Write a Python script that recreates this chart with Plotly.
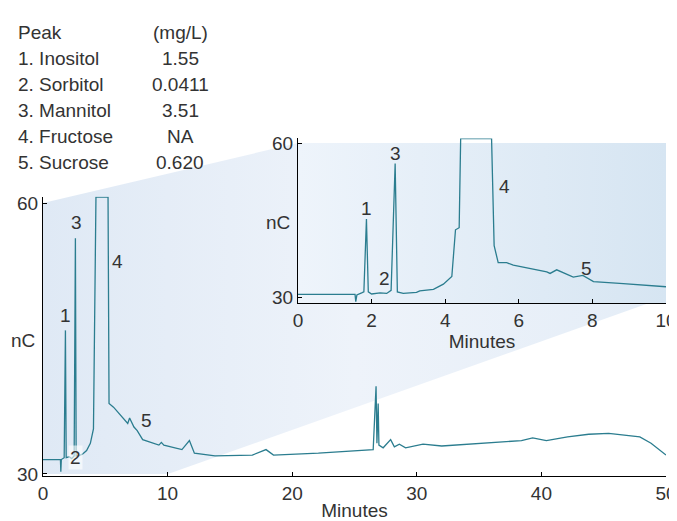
import plotly.graph_objects as go

# main chromatogram, 0-50 min
main_t = [0, 1.40, 1.43, 1.47, 1.70, 1.80, 1.86, 2.10, 2.30, 2.50, 2.60, 2.66, 2.85, 3.16, 3.50, 3.80,
          4.05, 4.15, 4.25, 5.22, 5.30, 5.66, 6.40, 6.80, 6.95, 7.30, 7.56, 8.00, 9.30, 9.50, 9.70,
          11.15, 11.75, 12.15, 13.8, 16.8, 17.9, 18.5, 22.1, 25.1, 26.5, 26.73, 26.80, 26.90, 26.96,
          27.3, 27.9, 28.2, 28.6, 29.1, 30.5, 32.0, 35.1, 38.4, 39.3, 40.4, 42.1, 43.8, 45.4, 46.8,
          47.9, 48.8, 50.0]
main_nc = [31.6, 31.6, 30.25, 31.6, 31.8, 45.9, 31.8, 31.9, 31.7, 32.0, 56.1, 32.0, 32.0, 32.2, 32.6, 33.4,
           35.0, 48.0, 60.65, 60.65, 37.8, 37.4, 36.3, 35.6, 36.2, 35.2, 34.8, 33.8, 33.2, 33.5, 33.2,
           32.7, 33.7, 32.3, 32.0, 32.1, 32.7, 32.1, 32.3, 32.6, 32.7, 39.7, 33.4, 37.8, 33.2,
           32.9, 33.8, 33.0, 33.3, 32.9, 33.3, 33.1, 33.4, 33.7, 34.0, 33.7, 34.1, 34.4, 34.5, 34.3,
           34.1, 33.4, 32.1]

# inset, 0-10 min
inset_t = [0, 1.55, 1.57, 1.60, 1.73, 1.79, 1.86, 1.91, 2.00, 2.23, 2.41, 2.53, 2.64, 2.70, 2.86, 3.22,
           3.31, 3.68, 3.95, 4.18, 4.28, 4.38, 4.42, 5.26, 5.33, 5.44, 5.67, 5.85, 6.76, 6.85, 7.03,
           7.48, 7.74, 8.03, 8.84, 9.47, 10.0]
inset_nc = [30.5, 30.5, 29.1, 30.4, 30.8, 31.0, 45.2, 31.0, 30.6, 30.8, 30.7, 31.3, 56.0, 31.0, 30.7, 30.9,
            31.2, 31.5, 32.5, 34.0, 43.1, 43.5, 60.85, 60.85, 40.0, 36.7, 36.7, 36.2, 34.9, 34.6, 35.3,
            33.9, 34.2, 33.0, 32.6, 32.3, 32.0]

peak_labels = ["1", "2", "3", "4", "5"]
main_label_t = [1.8, 2.6, 2.7, 6.0, 8.3]
main_label_nc = [47.5, 31.8, 57.8, 53.5, 35.9]
inset_label_t = [1.85, 2.35, 2.65, 5.6, 7.85]
inset_label_nc = [47.3, 33.7, 58.0, 51.5, 35.6]

table_names = ["Peak", "1. Inositol", "2. Sorbitol", "3. Mannitol", "4. Fructose", "5. Sucrose"]
table_values = ["(mg/L)", "1.55", "0.0411", "3.51", "NA", "0.620"]

W, H = 677, 521
OFF = 8  # page body margin


def px(x):
    return (x - OFF) / W


def py(y):
    return 1 - (y - OFF) / H


line_col = "#2b7d8f"
font = dict(family="Liberation Sans, Arial", size=19, color="#333333")

fig = go.Figure()

# decorative shading drawn on a full-page pixel axis (x/y)
fig.add_trace(go.Scatter(x=[43, 298, 666, 666, 168, 43, 43], y=[203, 143, 143, 297, 474, 474, 203],
                         fill="toself", mode="lines", line=dict(width=0), hoverinfo="skip",
                         fillgradient=dict(type="horizontal",
                                           colorscale=[[0, "#dfe9f5"], [0.5, "#eef3fa"], [1, "#e4edf7"]])))
fig.add_trace(go.Scatter(x=[298, 666, 666, 298, 298], y=[143, 143, 303, 303, 143],
                         fill="toself", mode="lines", line=dict(width=0), hoverinfo="skip",
                         fillgradient=dict(type="horizontal",
                                           colorscale=[[0, "#eef4fb"], [1, "#d6e5f2"]])))

fig.add_trace(go.Scatter(x=main_t, y=main_nc, xaxis="x2", yaxis="y2", mode="lines",
                         line=dict(color=line_col, width=1.3)))
fig.add_trace(go.Scatter(x=inset_t, y=inset_nc, xaxis="x3", yaxis="y3", mode="lines",
                         line=dict(color=line_col, width=1.3)))

for lab, tx, ty in zip(peak_labels, main_label_t, main_label_nc):
    fig.add_annotation(x=tx, y=ty, text=lab, xref="x2", yref="y2", showarrow=False, font=font,
                       bgcolor="rgba(255,255,255,0.6)" if lab == "2" else None)
for lab, tx, ty in zip(peak_labels, inset_label_t, inset_label_nc):
    fig.add_annotation(x=tx, y=ty, text=lab, xref="x3", yref="y3", showarrow=False, font=font)

for i, (n, v) in enumerate(zip(table_names, table_values)):
    fig.add_annotation(x=px(16), y=py(20 + 26 * i), text=n, xref="paper", yref="paper",
                       xanchor="left", showarrow=False, font=font)
    fig.add_annotation(x=px(180), y=py(20 + 26 * i), text=v, xref="paper", yref="paper",
                       xanchor="center", showarrow=False, font=font)

fig.add_annotation(x=px(9), y=py(340), text="nC", xref="paper", yref="paper", xanchor="left",
                   showarrow=False, font=font)
fig.add_annotation(x=px(278), y=py(222), text="nC", xref="paper", yref="paper", showarrow=False, font=font)

ax_common = dict(showline=True, linecolor="black", linewidth=1.2, showgrid=False, zeroline=False,
                 ticks="inside", ticklen=4, tickcolor="black", tickfont=font, automargin=False)

fig.update_layout(
    width=W, height=H, margin=dict(l=0, r=0, t=0, b=0), showlegend=False,
    paper_bgcolor="white", plot_bgcolor="rgba(0,0,0,0)",
    xaxis=dict(domain=[0, 1], range=[OFF, W + OFF], visible=False, fixedrange=True),
    yaxis=dict(domain=[0, 1], range=[H + OFF, OFF], visible=False, fixedrange=True),
    xaxis2=dict(ax_common, domain=[px(43), px(666)], range=[0, 50], tickvals=[0, 10, 20, 30, 40, 50],
                anchor="y2", title=dict(text="Minutes", font=font, standoff=0)),
    yaxis2=dict(ax_common, domain=[py(475.8), py(196.7)], range=[29.8, 60.7], tickvals=[30, 60], anchor="x2"),
    xaxis3=dict(ax_common, domain=[px(298), px(666)], range=[0, 10], tickvals=[0, 2, 4, 6, 8, 10],
                anchor="y3", title=dict(text="Minutes", font=font, standoff=0)),
    yaxis3=dict(ax_common, domain=[py(303.2), py(138.4)], range=[28.8, 60.9], tickvals=[30, 60], anchor="x3"),
)

fig.write_html("out.html")
